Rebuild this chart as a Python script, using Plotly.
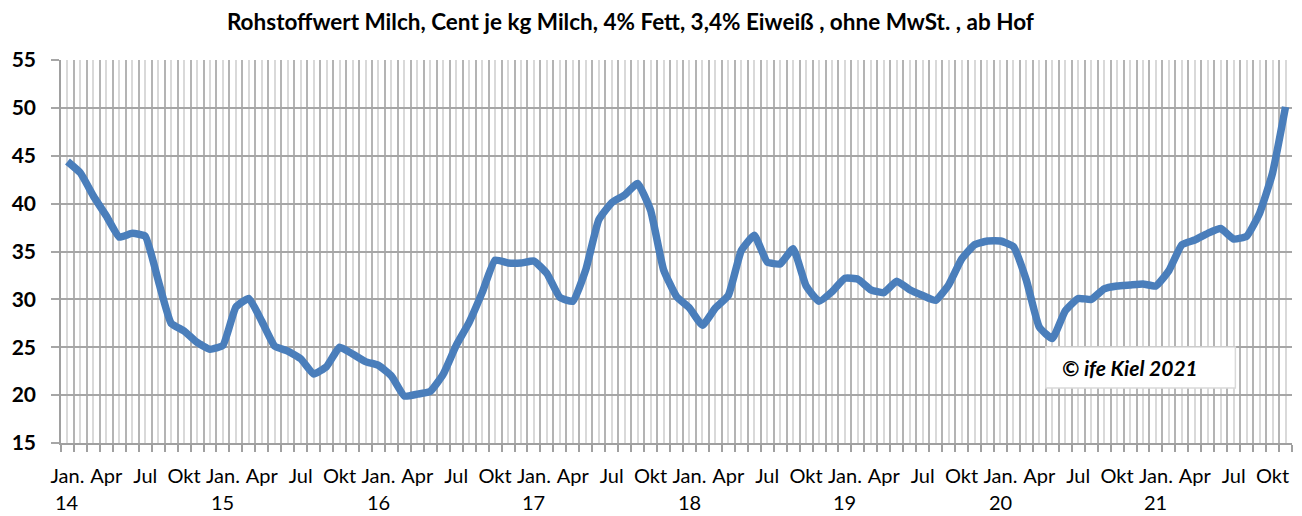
import plotly.graph_objects as go

# ---- data ----
quarter_labels = ["Jan.", "Apr", "Jul", "Okt"]
years = ["14", "15", "16", "17", "18", "19", "20", "21"]
values = [
    # 2014
    44.4, 43.2, 40.8, 38.7, 36.5, 36.9, 36.6, 32.0, 27.5, 26.7, 25.5, 24.8,
    # 2015
    25.2, 29.2, 30.1, 27.7, 25.1, 24.6, 23.8, 22.2, 23.0, 25.0, 24.3, 23.5,
    # 2016
    23.1, 22.0, 19.9, 20.1, 20.4, 22.2, 25.2, 27.6, 30.7, 34.1, 33.8, 33.8,
    # 2017
    34.0, 32.7, 30.2, 29.8, 33.1, 38.3, 40.1, 40.9, 42.1, 39.3, 33.1, 30.3,
    # 2018
    29.1, 27.3, 29.1, 30.4, 35.1, 36.7, 33.9, 33.7, 35.3, 31.4, 29.8, 30.8,
    # 2019
    32.2, 32.1, 31.0, 30.7, 31.9, 31.0, 30.4, 29.9, 31.5, 34.2, 35.7, 36.1,
    # 2020
    36.1, 35.5, 32.0, 27.1, 25.9, 28.8, 30.1, 30.0, 31.1, 31.4, 31.5, 31.6,
    # 2021
    31.4, 33.0, 35.7, 36.2, 36.9, 37.4, 36.3, 36.6, 39.0, 43.2, 50.1,
]
title_text = "Rohstoffwert Milch, Cent je kg Milch, 4% Fett, 3,4% Eiweiß , ohne MwSt. , ab Hof"
copyright_text = "© ife Kiel 2021"

n = len(values)
x = list(range(n))
ticktext = [quarter_labels[(i % 12) // 3] if i % 3 == 0 else "" for i in x]
boundaries = [i - 0.5 for i in range(n + 1)]

FONT = "Lato, 'Open Sans', sans-serif"

fig = go.Figure()
fig.add_trace(go.Scatter(
    x=x, y=values, mode="lines",
    line=dict(color="#4A7EBB", width=7.5, shape="spline", smoothing=0.4),
    hoverinfo="skip", showlegend=False,
))

fig.update_layout(
    width=1294, height=508,
    margin=dict(l=53, r=10, t=52, b=73),
    paper_bgcolor="white", plot_bgcolor="white",
    font=dict(family=FONT, color="black"),
    title=dict(text="<b>" + title_text + "</b>", x=0.481, xanchor="center",
               y=0.973, yanchor="middle", font=dict(size=22.5, family=FONT, color="black")),
    xaxis=dict(
        range=[-0.5, n - 0.5], automargin=False,
        tickmode="array", tickvals=x, ticktext=ticktext,
        ticks="", showgrid=True, gridcolor="#d9d9d9", gridwidth=1.5,
        tickfont=dict(size=20, family=FONT, color="black"),
        ticklabelstandoff=14,
        showline=True, linecolor="#a0a0a0", linewidth=1.5,
        mirror=False, zeroline=False,
        minor=dict(tickmode="array", tickvals=boundaries, showgrid=True,
                   gridcolor="#b4b4b4", gridwidth=1.5, ticks="outside",
                   ticklen=7, tickcolor="#a0a0a0", tickwidth=1.5),
    ),
    yaxis=dict(
        range=[15, 55], tickmode="linear", tick0=15, dtick=5, automargin=False,
        showgrid=True, gridcolor="#a6a6a6", gridwidth=1.5,
        ticks="outside", ticklen=8, tickcolor="#a6a6a6", tickwidth=1.5,
        tickfont=dict(size=21, family=FONT, color="black"),
        tickprefix="<b>", ticksuffix="</b>",
        ticklabelstandoff=11,
        showline=True, linecolor="#a0a0a0", linewidth=1.5,
        zeroline=False,
    ),
)

# year labels under January ticks
for k, yr in enumerate(years):
    fig.add_annotation(x=12 * k, y=0, xref="x", yref="paper", text=yr,
                       showarrow=False, yanchor="middle", yshift=-59,
                       font=dict(size=20, family=FONT, color="black"))

# copyright box
fig.add_shape(type="rect", xref="paper", yref="paper",
              x0=0.800, x1=0.954, y0=0.1436, y1=0.2507,
              fillcolor="white", line=dict(color="#d9d9d9", width=1.5), layer="above")
fig.add_annotation(x=0.8115, y=0.196, xref="paper", yref="paper",
                   text="<b><i>" + copyright_text + "</i></b>", showarrow=False,
                   xanchor="left", yanchor="middle",
                   font=dict(size=21, family=FONT, color="black"))

fig.write_html("out.html")
